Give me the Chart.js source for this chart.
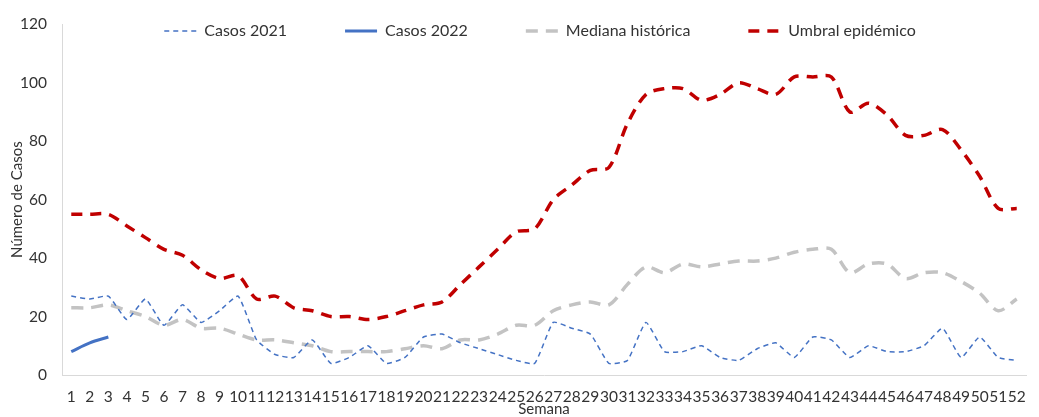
<!DOCTYPE html>
<html lang="es">
<head>
<meta charset="utf-8">
<title>Casos por semana</title>
<script src="https://cdn.jsdelivr.net/npm/chart.js@4.4.1/dist/chart.umd.min.js"></script>
<style>
  html, body { margin: 0; padding: 0; background: #fff; }
  .chart-box { position: relative; width: 1039px; height: 417px; }
</style>
</head>
<body>
<div class="chart-box"><canvas id="casos-chart"></canvas></div>
<script>
const weeks = ["1", "2", "3", "4", "5", "6", "7", "8", "9", "10", "11", "12", "13",
  "14", "15", "16", "17", "18", "19", "20", "21", "22", "23", "24", "25", "26",
  "27", "28", "29", "30", "31", "32", "33", "34", "35", "36", "37", "38", "39",
  "40", "41", "42", "43", "44", "45", "46", "47", "48", "49", "50", "51", "52"];

const casos2021 = [27, 26, 27, 19, 26, 17, 24, 18, 22, 27, 12, 7, 6, 12, 4, 6, 10, 4, 6, 13,
  14, 11, 9, 7, 5, 4, 18, 16, 14, 4, 5, 18, 8, 8, 10, 6, 5, 9, 11, 6,
  13, 12, 6, 10, 8, 8, 10, 16, 6, 13, 6, 5];
const casos2022 = [8, 11, 13];
const mediana = [23, 23, 24, 22, 20, 17, 19, 16, 16, 14, 12, 12, 11, 10, 8, 8, 8, 8, 9, 10,
  9, 12, 12, 14, 17, 17, 22, 24, 25, 24, 31, 37, 35, 38, 37, 38, 39, 39, 40, 42,
  43, 43, 35, 38, 38, 33, 35, 35, 32, 28, 22, 26];
const umbral = [55, 55, 55, 51, 47, 43, 41, 36, 33, 34, 26, 27, 23, 22, 20, 20, 19, 20, 22, 24,
  25, 31, 37, 43, 49, 50, 60, 65, 70, 71, 86, 96, 98, 98, 94, 96, 100, 98, 96, 102,
  102, 102, 90, 93, 89, 82, 82, 84, 77, 68, 57, 57];

const yTicks = { min: 0, max: 120, step: 20 };

const LEGEND_Y = 31;
const LEGEND_PAD = 58;
const LEGEND_FONT = 16;

// keep the legend inside the plot, like the Excel original
const legendInPlot = {
  id: "legendInPlot",
  beforeLayout(chart) {
    const legend = chart.legend;
    if (!legend || legend._patched) return;
    const fit = legend.fit;
    legend.fit = function () {
      fit.call(this);
      this.height = 0;
    };
    legend._patched = true;
  },
  afterLayout(chart) {
    const legend = chart.legend;
    if (!legend) return;
    legend.left -= 4;
    legend.right -= 4;
    legend.top = LEGEND_Y - LEGEND_PAD - LEGEND_FONT / 2;
    legend.bottom = LEGEND_Y + 20;
    legend.height = legend.bottom - legend.top;
  }
};

function legendLabels(chart) {
  const items = Chart.defaults.plugins.legend.labels.generateLabels(chart);
  items.forEach((item) => {
    const ds = chart.data.datasets[item.datasetIndex];
    item.lineDash = ds.borderDash || [];
    item.lineWidth = ds.borderWidth;
    item.strokeStyle = ds.borderColor;
  });
  return items;
}

Chart.defaults.font.family = "Lato, 'Open Sans', sans-serif";
Chart.defaults.color = "#333333";

new Chart(document.getElementById("casos-chart"), {
  type: "line",
  data: {
    labels: weeks,
    datasets: [
      {
        label: "Casos 2021",
        data: casos2021,
        borderColor: "#4472c4",
        borderWidth: 1.5,
        borderDash: [5, 4],
        tension: 0.15
      },
      {
        label: "Casos 2022",
        data: casos2022,
        borderColor: "#4472c4",
        borderWidth: 3,
        tension: 0.3
      },
      {
        label: "Mediana histórica",
        data: mediana,
        borderColor: "#c3c3c3",
        borderWidth: 3.5,
        borderDash: [12, 8],
        tension: 0.3
      },
      {
        label: "Umbral epidémico",
        data: umbral,
        borderColor: "#c00000",
        borderWidth: 3.5,
        borderDash: [11, 8],
        tension: 0.3
      }
    ]
  },
  options: {
    responsive: true,
    maintainAspectRatio: false,
    animation: false,
    layout: { padding: { top: 13, right: 13, bottom: 0, left: 0 } },
    elements: { point: { radius: 0, hoverRadius: 0 } },
    plugins: {
      tooltip: { enabled: false },
      legend: {
        position: "top",
        fullSize: false,
        labels: {
          usePointStyle: true,
          pointStyle: "line",
          pointStyleWidth: 32,
          padding: LEGEND_PAD,
          color: "#333333",
          font: { size: LEGEND_FONT },
          generateLabels: legendLabels
        }
      }
    },
    scales: {
      x: {
        offset: true,
        grid: { display: false, drawTicks: false },
        border: { display: true, color: "#d9d9d9", width: 1 },
        ticks: {
          autoSkip: false,
          maxRotation: 0,
          minRotation: 0,
          padding: 13,
          font: { size: 15.5 }
        },
        title: {
          display: true,
          text: "Semana",
          font: { size: 15, lineHeight: 1 },
          padding: { top: 0, bottom: 0 }
        },
        afterFit(scale) { scale.height = 42; }
      },
      y: {
        min: yTicks.min,
        max: yTicks.max,
        grid: { display: false, drawTicks: false },
        border: { display: true, color: "#d9d9d9", width: 1 },
        ticks: {
          stepSize: yTicks.step,
          padding: 15,
          font: { size: 15.5 }
        },
        title: {
          display: true,
          text: "Número de Casos",
          font: { size: 15 },
          padding: { top: 8, bottom: 0 }
        },
        afterFit(scale) { scale.width = 62; }
      }
    }
  },
  plugins: [legendInPlot]
});
</script>
</body>
</html>
